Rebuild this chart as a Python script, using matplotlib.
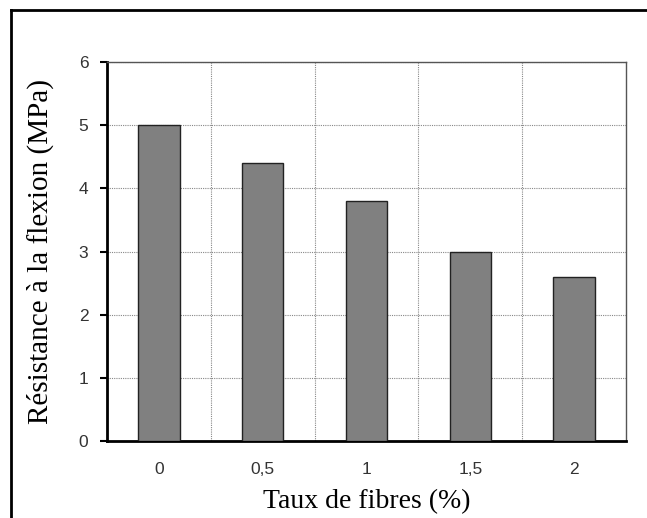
import matplotlib.pyplot as plt
import numpy as np
from matplotlib.lines import Line2D

categories = ['0', '0,5', '1', '1,5', '2']
resistance = [5.0, 4.4, 3.8, 3.0, 2.6]

plt.rcParams['font.family'] = ['Liberation Serif', 'DejaVu Serif']

fig = plt.figure(figsize=(6.47, 5.18), dpi=100)
ax = fig.add_axes([0.1654, 0.1486, 0.8021, 0.7317])

x = np.arange(len(categories))
ax.bar(x, resistance, width=0.4, color='#808080', edgecolor='#222222', linewidth=1.0, zorder=3)

ax.set_xlim(-0.5, len(categories) - 0.5)
ax.set_ylim(0, 6)
ax.set_yticks(range(0, 7))
ax.set_xticks(x)
ax.set_xticklabels(categories)
ax.set_xticks(np.arange(0.5, len(categories) - 0.5, 1), minor=True)

ax.grid(True, axis='y', which='major', linestyle=(0, (1, 1)), color='#888888', linewidth=0.8, zorder=0)
ax.grid(True, axis='x', which='minor', linestyle=(0, (1, 1)), color='#888888', linewidth=0.8, zorder=0)

ax.tick_params(axis='x', which='both', length=0, pad=15)
ax.tick_params(axis='y', length=5, width=1.5, pad=8.5)
for lab in ax.get_xticklabels() + ax.get_yticklabels():
    lab.set_family(['Liberation Sans', 'DejaVu Sans'])
    lab.set_fontsize(12.5)
    lab.set_color('#333333')

ax.spines['left'].set_linewidth(2)
ax.spines['bottom'].set_linewidth(2)
ax.spines['top'].set_color('#555555')
ax.spines['right'].set_color('#555555')
ax.spines['top'].set_linewidth(1)
ax.spines['right'].set_linewidth(1)

ax.set_xlabel('Taux de fibres (%)', fontsize=20)
ax.set_ylabel('Résistance à la flexion (MPa)', fontsize=21)
ax.xaxis.set_label_coords(0.5, -0.127)
ax.yaxis.set_label_coords(-0.102, 0.5)

# cadre autour de la figure
fig.add_artist(Line2D([11 / 647, 11 / 647], [0, 1 - 10 / 518], color='black', linewidth=2))
fig.add_artist(Line2D([11 / 647, 1], [1 - 10 / 518, 1 - 10 / 518], color='black', linewidth=2))

fig.savefig('out.png', dpi=100)
